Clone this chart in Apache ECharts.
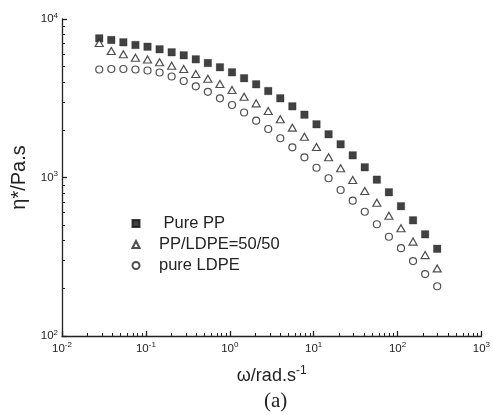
<!DOCTYPE html>
<html>
<head>
<meta charset="utf-8">
<script src="https://cdn.jsdelivr.net/npm/echarts@6/dist/echarts.min.js"></script>
<style>
html,body{margin:0;padding:0;background:#fff;}
#chart{width:493px;height:415px;}
</style>
</head>
<body>
<div id="chart"></div>
<script>
// Angular frequency (rad/s)
var omega = [0.0278, 0.0387, 0.0539, 0.0751, 0.1046, 0.1457, 0.2029, 0.2827, 0.3937, 0.5484, 0.7638, 1.064, 1.482, 2.064, 2.875, 4.004, 5.577, 7.768, 10.82, 15.07, 20.99, 29.24, 40.72, 56.72, 79.0, 110.0, 153.2, 213.5, 297.3];
// Complex viscosity (Pa.s)
var etaPP = [7553, 7372, 7129, 6855, 6686, 6439, 6165, 5902, 5568, 5278, 4960, 4610, 4231, 3873, 3513, 3160, 2813, 2490, 2166, 1874, 1620, 1380, 1160, 969, 807, 659, 537, 438, 355];
var etaBlend = [7057, 6284, 5990, 5700, 5553, 5331, 5075, 4836, 4498, 4194, 3890, 3565, 3234, 2938, 2628, 2329, 2062, 1809, 1557, 1341, 1143, 964, 822, 693, 574, 478, 394, 324, 267];
var etaLDPE = [4801, 4836, 4836, 4801, 4732, 4597, 4337, 4062, 3762, 3473, 3160, 2866, 2571, 2283, 2023, 1768, 1551, 1341, 1152, 989, 834, 714, 608, 507, 423, 358, 297, 246, 206];
var seriesNames = ['Pure PP', 'PP/LDPE=50/50', 'pure LDPE'];
// Tick values
var xTicks = [0.01, 0.1, 1, 10, 100, 1000];
var yTicks = [100, 1000, 10000];

function minors(ticks) {
  var out = [];
  for (var i = 0; i < ticks.length - 1; i++) {
    for (var k = 2; k <= 9; k++) out.push(+(ticks[i] * k).toPrecision(6));
  }
  return out;
}
function pairs(xs, ys) {
  return xs.map(function (x, i) { return [x, ys[i]]; });
}
function powLabel(v) {
  var e = Math.round(Math.log10(v));
  return '{b|10}{s|' + e + '}';
}
var FONT = '"Liberation Sans", Arial, sans-serif';
var labelRich = {
  b: { fontSize: 11.5, fontFamily: FONT, color: '#222' },
  s: { fontSize: 8, fontFamily: FONT, color: '#222', padding: [0, 0, 7, 0] }
};
var axisLineStyle = { color: '#222', width: 1.3 };

var chart = echarts.init(document.getElementById('chart'), null, { renderer: 'canvas' });
chart.setOption({
  backgroundColor: '#fff',
  animation: false,
  title: {
    text: '(a)', left: 259, top: 386,
    textStyle: { fontFamily: '"Liberation Serif", "Times New Roman", serif', fontSize: 21, fontWeight: 'normal', color: '#222' }
  },
  legend: {
    orient: 'vertical', left: 131.5, top: 215, padding: 0,
    itemWidth: 7, itemHeight: 7, itemGap: 4,
    data: seriesNames,
    formatter: function (n) { return '{g|}' + (n === 'Pure PP' ? ' ' + n : n); },
    textStyle: {
      fontFamily: FONT, fontSize: 16.5, color: '#222',
      rich: { g: { width: 14.5 } }
    }
  },
  grid: { left: 62, right: 3, top: 19, bottom: 79, containLabel: false },
  xAxis: [{
    type: 'log', logBase: 10, min: 0.01, max: 1000, position: 'bottom',
    name: '{a|ω/rad.s}{s|-1}', nameLocation: 'middle', nameGap: 29,
    nameTextStyle: {
      rich: {
        a: { fontFamily: FONT, fontSize: 18, color: '#222' },
        s: { fontFamily: FONT, fontSize: 12, color: '#222', padding: [0, 0, 11, 0] }
      }
    },
    axisLine: { show: true, lineStyle: axisLineStyle },
    axisTick: { show: true, inside: true, length: 5, customValues: xTicks, lineStyle: axisLineStyle },
    axisLabel: { show: true, margin: 5, customValues: xTicks, formatter: powLabel, rich: labelRich, alignMaxLabel: 'center', alignMinLabel: 'center' },
    splitLine: { show: false }
  }, {
    type: 'log', logBase: 10, min: 0.01, max: 1000, position: 'bottom', offset: 0,
    axisLine: { show: false },
    axisTick: { show: true, inside: true, length: 3, customValues: minors(xTicks), lineStyle: { color: '#222', width: 1 } },
    axisLabel: { show: false },
    splitLine: { show: false }
  }],
  yAxis: [{
    type: 'log', logBase: 10, min: 100, max: 10000, position: 'left',
    name: 'η*/Pa.s', nameLocation: 'middle', nameGap: 17, nameRotate: 90,
    nameTextStyle: { fontFamily: FONT, fontSize: 20, color: '#222' },
    axisLine: { show: true, lineStyle: axisLineStyle },
    axisTick: { show: true, inside: true, length: 5, customValues: yTicks, lineStyle: axisLineStyle },
    axisLabel: { show: true, margin: 4, customValues: yTicks, formatter: powLabel, rich: labelRich },
    splitLine: { show: false }
  }, {
    type: 'log', logBase: 10, min: 100, max: 10000, position: 'left', offset: 0,
    axisLine: { show: false },
    axisTick: { show: true, inside: true, length: 3, customValues: minors(yTicks), lineStyle: { color: '#222', width: 1 } },
    axisLabel: { show: false },
    splitLine: { show: false }
  }],
  series: [{
    name: seriesNames[0], type: 'scatter', xAxisIndex: 0, yAxisIndex: 0,
    symbol: 'rect', symbolSize: 7.5,
    itemStyle: { color: '#111', borderColor: '#111', borderWidth: 0.3 },
    data: pairs(omega, etaPP)
  }, {
    name: seriesNames[1], type: 'scatter', xAxisIndex: 0, yAxisIndex: 0,
    symbol: 'triangle', symbolSize: [8, 7],
    itemStyle: { color: '#fff', borderColor: '#222', borderWidth: 1.2 },
    data: pairs(omega, etaBlend)
  }, {
    name: seriesNames[2], type: 'scatter', xAxisIndex: 0, yAxisIndex: 0,
    symbol: 'circle', symbolSize: 7,
    itemStyle: { color: '#fff', borderColor: '#222', borderWidth: 1.2 },
    data: pairs(omega, etaLDPE)
  }]
});
</script>
</body>
</html>
